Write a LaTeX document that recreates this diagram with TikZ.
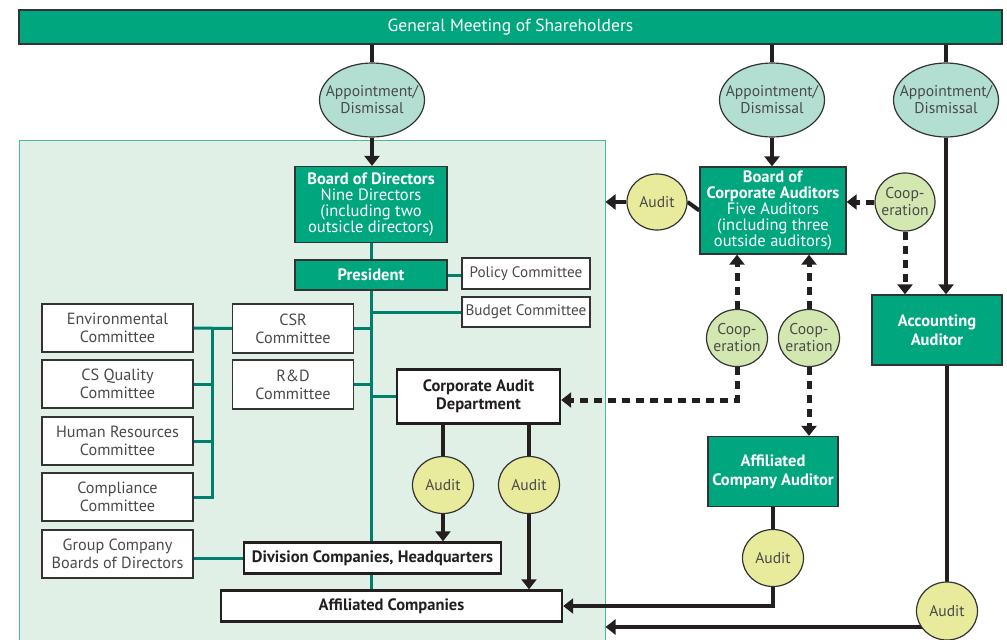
\documentclass[tikz,border=0pt]{standalone}
\usepackage{fontspec}
\setmainfont{PT Sans}
\usetikzlibrary{arrows.meta,shapes.geometric}
\definecolor{dg}{HTML}{00A77E}
\definecolor{regfill}{HTML}{E1F0E6}
\definecolor{regline}{HTML}{4DB89A}
\definecolor{tealc}{HTML}{00806C}
\definecolor{blk}{HTML}{231F20}
\definecolor{bord}{HTML}{333333}
\definecolor{apfill}{HTML}{B3DFD3}
\definecolor{aufill}{HTML}{E8EB9C}
\definecolor{cofill}{HTML}{D3E8B0}
\definecolor{etxt}{HTML}{4A4A4A}
\pgfdeclarelayer{bgzero}
\pgfdeclarelayer{bgone}
\pgfsetlayers{bgzero,bgone,main}
\tikzset{
  gbox/.style={draw=bord,line width=1.3pt,fill=dg,text=white,align=center,inner sep=0pt,font=\fontsize{16.5}{15.8}\selectfont},
  gboxb/.style={gbox,font=\bfseries\fontsize{16.5}{19}\selectfont},
  wbox/.style={draw=bord,line width=1.3pt,fill=white,text=etxt,align=center,inner sep=0pt,font=\fontsize{16.2}{18}\selectfont},
  wboxs/.style={wbox,font=\fontsize{15.2}{18}\selectfont},
  wboxb/.style={draw=blk,line width=2.4pt,fill=white,text=blk,align=center,inner sep=0pt,font=\bfseries\fontsize{16.5}{18.5}\selectfont},
  ell/.style={ellipse,draw=bord,line width=1.2pt,text=etxt,align=center,inner xsep=-30pt,inner ysep=-20pt,font=\fontsize{15.6}{17}\selectfont},
  appt/.style={ell,fill=apfill,minimum width=105pt,minimum height=74pt},
  aud/.style={ell,fill=aufill,minimum width=61pt,minimum height=57pt},
  coop/.style={ell,fill=cofill,minimum width=61pt,minimum height=57pt},
  tl/.style={draw=tealc,line width=3pt},
  bl/.style={draw=blk,line width=4pt},
  ba/.style={bl,-{Triangle[width=15pt,length=10pt]}},
  da/.style={draw=blk,line width=5pt,dash pattern=on 8pt off 6pt,-{Triangle[width=15pt,length=10pt]}},
}
\begin{document}
\begin{tikzpicture}[x=1pt,y=-1pt]
\useasboundingbox (0,0) rectangle (1007,640);
% nodes
\node[gbox,minimum width=983pt,minimum height=34pt,font=\fontsize{17.5}{19}\selectfont] (gm) at (510.5,27) {General Meeting of Shareholders};
\node[appt] (ap1) at (372,100) {Appointment/\\Dismissal};
\node[appt] (ap2) at (772,100) {Appointment/\\Dismissal};
\node[appt] (ap3) at (946,100) {Appointment/\\Dismissal};
\node[gbox,minimum width=152pt,minimum height=76pt] (bod) at (371,204.5) {\textbf{Board of Directors}\\Nine Directors\\(including two\\outsicle directors)};
\node[gboxb,minimum width=152pt,minimum height=30pt] (pres) at (371,275) {President};
\node[wboxs,minimum width=128pt,minimum height=31pt] (pol) at (526,273.5) {Policy Committee};
\node[wboxs,minimum width=128pt,minimum height=30pt] (bud) at (526,312) {Budget Committee};
\node[wbox,minimum width=121pt,minimum height=49pt] (csr) at (293,328.5) {CSR\\Committee};
\node[wbox,minimum width=121pt,minimum height=49pt] (rd) at (293,384.5) {R\&D\\Committee};
\node[wbox,minimum width=151pt,minimum height=48pt] (env) at (117.5,328) {Environmental\\Committee};
\node[wbox,minimum width=151pt,minimum height=48pt] (csq) at (117.5,384) {CS Quality\\Committee};
\node[wbox,minimum width=151pt,minimum height=48pt] (hr) at (117.5,441) {Human Resources\\Committee};
\node[wbox,minimum width=151pt,minimum height=48pt] (comp) at (117.5,497) {Compliance\\Committee};
\node[wbox,minimum width=151pt,minimum height=48pt] (grp) at (117.5,554) {Group Company\\Boards of Directors};
\node[wboxb,minimum width=257pt,minimum height=31pt] (div) at (372.5,558) {Division Companies, Headquarters};
\node[wboxb,minimum width=341pt,minimum height=31pt] (aff) at (391.5,606) {Affiliated Companies};
\node[wboxb,minimum width=163pt,minimum height=54pt] (cad) at (478.5,396.5) {Corporate Audit\\Department};
\node[aud] (au1) at (443,485) {Audit};
\node[aud] (au2) at (529,485) {Audit};
\node[gbox,minimum width=146pt,minimum height=87pt] (bca) at (773,210.5) {\textbf{Board of}\\\textbf{Corporate Auditors}\\Five Auditors\\(including three\\outside auditors)};
\node[aud,minimum width=60pt,minimum height=56pt] (au3) at (657,202) {Audit};
\node[coop,minimum width=60pt,minimum height=58pt] (co1) at (905,202) {Coop-\\eration};
\node[gboxb,minimum width=130pt,minimum height=70pt] (acc) at (937,330) {Accounting\\Auditor};
\node[coop] (co2) at (737,338) {Coop-\\eration};
\node[coop] (co3) at (809,338) {Coop-\\eration};
\node[gboxb,minimum width=130pt,minimum height=70pt] (aca) at (773,471.5) {Affiliated\\Company Auditor};
\node[aud] (au4) at (773,558) {Audit};
\node[aud,minimum height=58pt] (au5) at (947,611) {Audit};
% region
\begin{pgfonlayer}{bgzero}
\node[draw=regline,line width=1pt,fill=regfill,minimum width=586pt,minimum height=510pt,inner sep=0pt] (reg) at (312,395) {};
\end{pgfonlayer}
\begin{pgfonlayer}{bgone}
% teal connectors
\draw[tl] (bod.south) -- (bod.south |- aff.north);
\draw[tl] (pres.east) -- (pres.east -| pol.west);
\draw[tl] (bud.west) -- (bod |- bud.west);
\draw[tl] (csr.east) -- (bod |- csr.east);
\draw[tl] (rd.east) -- (bod |- rd.east);
\draw[tl] (cad.west) -- (bod |- cad.west);
\draw[tl] (env.east) -- (csr.west);
\coordinate (bx) at (212,0);
\draw[tl] (bx |- env.east) -- (bx |- comp.east) -- (comp.east);
\draw[tl] (csq.east) -- (bx |- csq.east);
\draw[tl] (hr.east) -- (bx |- hr.east);
\draw[tl] (grp.east |- div.west) -- (div.west);
% black connectors
\draw[bl] (ap1 |- gm.south) -- (ap1.north);
\draw[ba] (ap1.south) -- (ap1.south |- bod.north);
\draw[bl] (ap2 |- gm.south) -- (ap2.north);
\draw[ba] (ap2.south) -- (ap2.south |- bca.north);
\draw[bl] (ap3 |- gm.south) -- (ap3.north);
\draw[ba] (ap3.south) -- (ap3.south |- acc.north);
\draw[bl] (bca.west) -- (au3.east);
\draw[ba] (au3.west) -- (reg.east |- au3.west);
\draw[da] (co1.west) -- (co1.west -| bca.east);
\draw[da] (co1.south) -- (co1.south |- acc.north);
\draw[da] (co2.north) -- (co2.north |- bca.south);
\draw[da] (co3.north) -- (co3.north |- bca.south);
\coordinate (k1) at (737,400);
\draw[da] (co2.south) -- (k1) -- (k1 -| cad.east);
\draw[da] (co3.south) -- (co3.south |- aca.north);
\draw[bl] (aca.south) -- (au4.north);
\coordinate (k2) at (773,606);
\draw[ba] (au4.south) -- (k2) -- (k2 -| aff.east);
\coordinate (k3) at (947,627);
\draw[ba] (acc.south -| au5) -- (k3) -- (k3 -| reg.east);
\draw[bl] (au1 |- cad.south) -- (au1.north);
\draw[ba] (au1.south) -- (au1.south |- div.north);
\draw[bl] (au2 |- cad.south) -- (au2.north);
\draw[ba] (au2.south) -- (au2.south |- aff.north);
\end{pgfonlayer}
\end{tikzpicture}
\end{document}
